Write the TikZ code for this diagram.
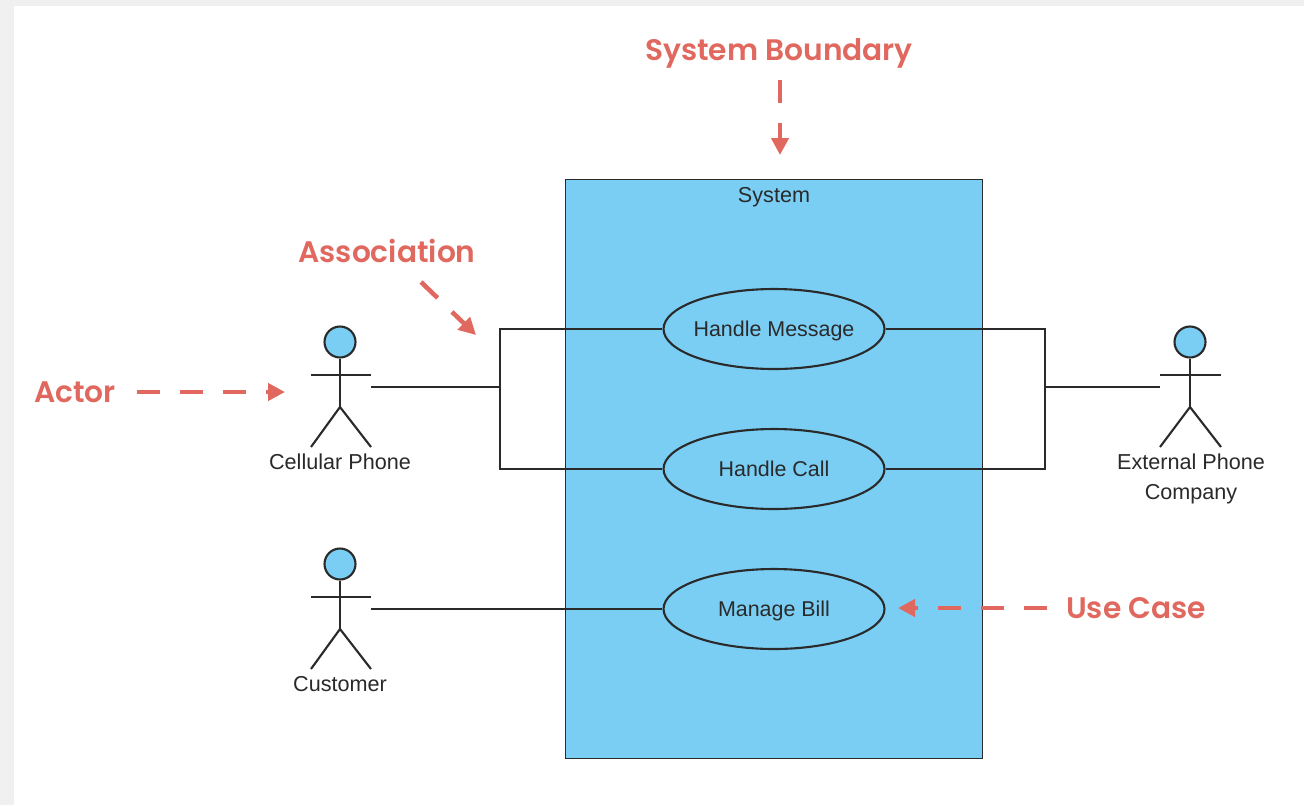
\documentclass[tikz,border=0pt]{standalone}
\usepackage{fontspec}
\setmainfont{Liberation Sans}
\newfontfamily\notefont{Poppins SemiBold}
\usepackage{tikz}
\usetikzlibrary{arrows.meta,shapes.geometric}
\definecolor{sysblue}{HTML}{7ACEF4}
\definecolor{noterred}{HTML}{E0685E}
\definecolor{pagegrey}{HTML}{F0F0F0}
\definecolor{inkgrey}{HTML}{2A2A2A}
\tikzset{
    usecase/.style={draw=inkgrey,fill=sysblue,ellipse,line width=1.2pt,minimum width=4.42cm,minimum height=1.6cm,inner ysep=0pt,inner xsep=-0.1cm,text height=0.32cm,text depth=0.02cm,text=inkgrey,font=\fontsize{12.2}{15}\selectfont},
    actorhead/.style={draw=inkgrey,fill=sysblue,circle,line width=1.2pt,minimum size=0.62cm,inner sep=0pt},
    actorname/.style={align=center,text=inkgrey,font=\fontsize{12.3}{17}\selectfont},
    stick/.style={draw=inkgrey,line width=1.2pt},
    assoc/.style={draw=inkgrey,line width=1.2pt},
    note/.style={text=noterred,font=\notefont\fontsize{16.9}{20}\selectfont,inner sep=0pt},
    notearrow/.style={draw=noterred,line width=2.6pt,dash pattern=on 0.46cm off 0.4cm,-{Triangle[length=0.34cm,width=0.34cm]}}
}
\begin{document}
\begin{tikzpicture}[x=0.02cm,y=-0.02cm]
    \useasboundingbox (0,0) rectangle (1304,805);
    \fill[pagegrey] (0,0) rectangle (1304,805);
    \fill[white] (14,6) rectangle (1304,805);
    % the system box
    \node[draw=inkgrey,fill=sysblue,line width=0.9pt,minimum width=8.34cm,minimum height=11.58cm,inner sep=0pt] (system) at (774,469) {};
    \node[actorname] (systemname) at (774,197) {System};
    % use cases
    \node[usecase] (message) at (774,329) {Handle Message};
    \node[usecase] (call) at (774,469) {Handle Call};
    \node[usecase] (bill) at (774,609) {Manage Bill};
    % cellular phone
    \node[actorhead] (cellhead) at (340,342) {};
    \coordinate (cellhip) at (340,407);
    \coordinate (cellhand) at (371,375);
    \coordinate (cellarm) at (311,375);
    \coordinate (cellfootl) at (311,447);
    \coordinate (cellfootr) at (371,447);
    \coordinate (cellend) at (371,387);
    \draw[stick] (cellhead) -- (cellhip);
    \draw[stick] (cellarm) -- (cellhand);
    \draw[stick] (cellfootl) -- (cellhip) -- (cellfootr);
    \node[actorname] (cellname) at (340,462) {Cellular Phone};
    % customer
    \node[actorhead] (custhead) at (340,564) {};
    \coordinate (custhip) at (340,629);
    \coordinate (custhand) at (371,597);
    \coordinate (custarm) at (311,597);
    \coordinate (custfootl) at (311,669);
    \coordinate (custfootr) at (371,669);
    \coordinate (custend) at (371,609);
    \draw[stick] (custhead) -- (custhip);
    \draw[stick] (custarm) -- (custhand);
    \draw[stick] (custfootl) -- (custhip) -- (custfootr);
    \node[actorname] (custname) at (340,684) {Customer};
    % external phone company
    \node[actorhead] (exthead) at (1190,342) {};
    \coordinate (exthip) at (1190,407);
    \coordinate (exthand) at (1221,375);
    \coordinate (extarm) at (1160,375);
    \coordinate (extfootl) at (1160,447);
    \coordinate (extfootr) at (1221,447);
    \coordinate (extend) at (1160,387);
    \draw[stick] (exthead) -- (exthip);
    \draw[stick] (extarm) -- (exthand);
    \draw[stick] (extfootl) -- (exthip) -- (extfootr);
    \node[actorname] (extname) at (1191,479) {External Phone\\Company};
    % associations
    \coordinate (leftjoin) at (500,387);
    \coordinate (rightjoin) at (1045,387);
    \draw[assoc] (cellend) -- (leftjoin);
    \draw[assoc] (message.west) -| (leftjoin) |- (call.west);
    \draw[assoc] (extend) -- (rightjoin);
    \draw[assoc] (message.east) -| (rightjoin) |- (call.east);
    \draw[assoc] (custend) -- (bill.west);
    % notes
    \node[note] (boundarynote) at (779,53) {System Boundary};
    \node[note] (assocnote) at (387,251) {Association};
    \node[note] (actornote) at (75,392) {Actor};
    \node[note] (casenote) at (1136,608) {Use Case};
    \coordinate (boundarytip) at (780,155);
    \coordinate (assoctip) at (476,335);
    \coordinate (actortip) at (285,392);
    \coordinate (casetip) at (898,608);
    \coordinate (boundarystart) at (780,80);
    \coordinate (assocstart) at (421,282);
    \coordinate (actorstart) at (137,392);
    \coordinate (casestart) at (1047,608);
    \draw[notearrow] (boundarystart) -- (boundarytip);
    \draw[notearrow] (assocstart) -- (assoctip);
    \draw[notearrow] (actorstart) -- (actortip);
    \draw[notearrow] (casestart) -- (casetip);
\end{tikzpicture}
\end{document}
